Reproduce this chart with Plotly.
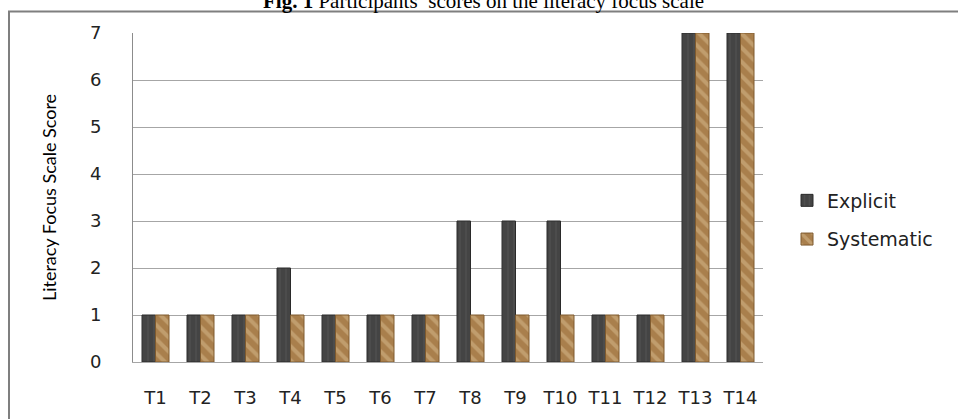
import plotly.graph_objects as go

categories = ["T1", "T2", "T3", "T4", "T5", "T6", "T7", "T8", "T9", "T10", "T11", "T12", "T13", "T14"]
explicit = [1, 1, 1, 2, 1, 1, 1, 3, 3, 3, 1, 1, 7, 7]
systematic = [1, 1, 1, 1, 1, 1, 1, 1, 1, 1, 1, 1, 7, 7]
y_ticks = [0, 1, 2, 3, 4, 5, 6, 7]

W, H = 958, 419
L, R, T, B = 133, 195, 33, 57
pw, ph = W - L - R, H - T - B

def px_to_paper_x(px):
    return (px - L) / pw

def px_to_paper_y(py):
    return (H - B - py) / ph

fig = go.Figure()
fig.add_trace(go.Bar(
    x=categories, y=explicit, name="Explicit",
    legendgroup="a",
    marker=dict(color="#444444", line=dict(color="#2a2a2a", width=1),
                pattern=dict(shape="|", fgcolor="#5a5a5a", size=6, solidity=0.25)),
))
fig.add_trace(go.Bar(
    x=categories, y=systematic, name="Systematic",
    legendgroup="b",
    marker=dict(color="#a97f4c", line=dict(color="#7e5a2e", width=1),
                pattern=dict(shape="\\", fgcolor="#d8bb8e", size=10, solidity=0.4)),
))

fig.update_layout(
    width=W, height=H,
    margin=dict(l=L, r=R, t=T, b=B),
    paper_bgcolor="white", plot_bgcolor="white",
    barmode="group", bargap=0.4, bargroupgap=0,
    font=dict(family="DejaVu Sans", size=17, color="#222222"),
    legend=dict(
        x=px_to_paper_x(787), xanchor="left",
        y=px_to_paper_y(220), yanchor="middle",
        font=dict(family="DejaVu Sans", size=19, color="#222222"),
        traceorder="grouped", tracegroupgap=11,
        bgcolor="rgba(0,0,0,0)",
    ),
    showlegend=True,
)
fig.update_xaxes(
    showline=True, linecolor="#a6a6a6", linewidth=1,
    ticks="", ticklabelstandoff=19,
    tickfont=dict(family="DejaVu Sans", size=18, color="#222222"),
    showgrid=False,
)
fig.update_yaxes(
    range=[0, 7], tickvals=y_ticks, ticktext=[str(v) for v in y_ticks],
    showline=True, linecolor="#8c8c8c", linewidth=1,
    showgrid=True, gridcolor="#a6a6a6", gridwidth=1,
    ticks="", ticklabelstandoff=27,
    tickfont=dict(family="DejaVu Sans", size=18, color="#222222"),
    title=dict(text="Literacy Focus Scale Score", standoff=28,
               font=dict(family="Lato", size=18, color="#000000")),
    zeroline=False,
)

# outer frame
fig.add_shape(type="rect", xref="paper", yref="paper",
              x0=px_to_paper_x(9), x1=px_to_paper_x(965),
              y0=px_to_paper_y(430), y1=px_to_paper_y(11.5),
              line=dict(color="#7f7f7f", width=2), fillcolor="rgba(0,0,0,0)",
              layer="below")

# title (partially cropped at top, as in the reference)
fig.add_annotation(
    xref="paper", yref="paper",
    x=px_to_paper_x(483), y=px_to_paper_y(15), xanchor="center", yanchor="bottom",
    text="<b>Fig. 1</b> Participants\u2019 scores on the literacy focus scale",
    showarrow=False,
    font=dict(family="Liberation Serif", size=21, color="#000000"),
)

fig.write_html("out.html")
